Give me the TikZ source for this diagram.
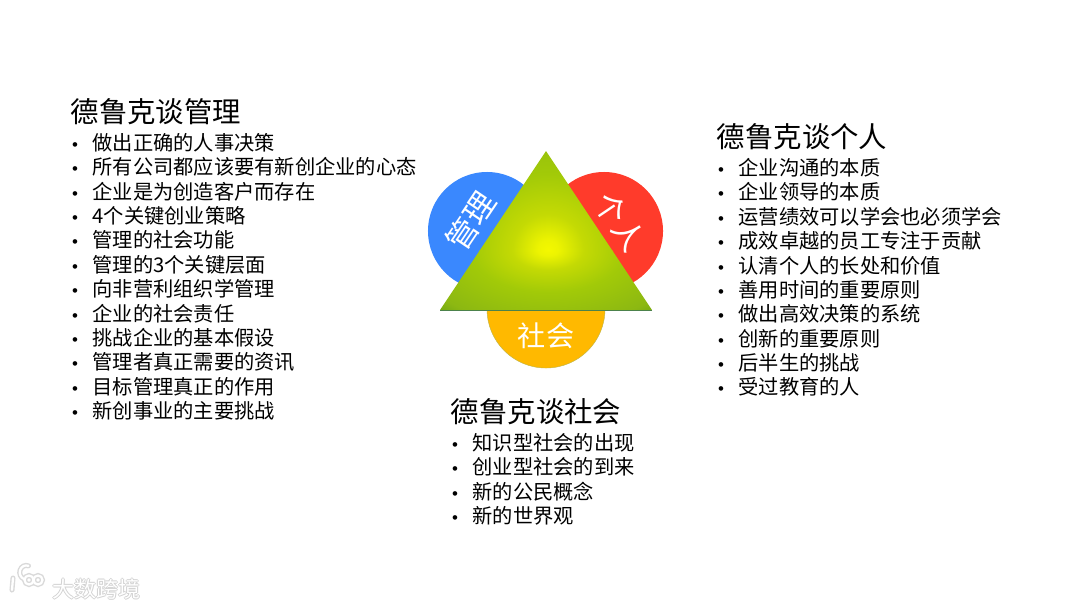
\documentclass[tikz,border=0pt]{standalone}
\usepackage{fontspec}
\setmainfont{Noto Sans CJK SC}
\newfontfamily\dotfont{Liberation Sans}
\usetikzlibrary{positioning}

\definecolor{mgmtblue}{HTML}{3A88FE}
\definecolor{selfred}{HTML}{FF3B2B}
\definecolor{socamber}{HTML}{FFB900}
\definecolor{glowcore}{HTML}{F4F800}
\definecolor{glowmid}{HTML}{C4DA04}
\definecolor{glowlime}{HTML}{A2CA08}
\definecolor{glowolive}{HTML}{8CB812}
\definecolor{glowedge}{HTML}{5D9A14}
\definecolor{glowdark}{HTML}{257A1A}
\pgfdeclareradialshading{triglow}{\pgfpointorigin}{
    color(0bp)=(glowcore);
    color(2bp)=(glowcore!85!glowmid);
    color(7bp)=(glowmid);
    color(15bp)=(glowlime);
    color(27bp)=(glowolive);
    color(34bp)=(glowedge);
    color(41bp)=(glowdark);
    color(50bp)=(glowdark)
}
\newcommand{\itm}[1]{\makebox[14.6pt][l]{\dotfont\fontsize{12}{12}\selectfont •}#1}

\begin{document}
\begin{tikzpicture}[
    x=0.025cm, y=-0.025cm,
    heading/.style={
        inner sep=0pt, anchor=west,
        font=\fontsize{20.2}{24}\selectfont
    },
    itemlist/.style={
        inner sep=0pt, align=left,
        font=\fontsize{14.4}{17.32}\selectfont
    },
    lobe/.style={circle, minimum size=2.95cm, inner sep=0pt},
    lobetext/.style={
        inner sep=0pt, text=white,
        font=\fontsize{20}{24}\selectfont
    },
    tilttext/.style={
        inner sep=0pt, text=white,
        font=\fontsize{22}{26}\selectfont
    },
    logotext/.style={
        inner sep=0pt, anchor=west,
        font=\fontsize{15.6}{18}\selectfont
    }
]
\useasboundingbox (0,0) rectangle (1080,608);

% three discs behind the triangle
\node (mgmtdisc) [lobe, fill=mgmtblue] at (487,231) {};
\node (selfdisc) [lobe, fill=selfred]  at (604,231) {};
\node (socdisc)  [lobe, fill=socamber, draw=olive!60, line width=0.3pt] at (546,309) {};

% triangle, glow squashed below its centre
\begin{scope}
    \clip (546,151) -- (652,310) -- (440,310) -- cycle;
    \begin{scope}
        \clip (430,140) rectangle (660,251);
        \shade[shading=triglow] (421,123) rectangle (675,377);
    \end{scope}
    \begin{scope}
        \clip (430,250) rectangle (660,320);
        \shade[shading=triglow] (421,180) rectangle (675,320);
    \end{scope}
\end{scope}
\draw[green!30!black!70, line width=0.4pt] (440,310) -- (652,310);

\node (mgmtlabel) [tilttext, rotate=56]  at (471,221) {管理};
\node (selflabel) [tilttext, rotate=-56] at (620,222) {个人};
\node (soclabel)  [lobetext] at (546,336) {社会};

% management
\node (mgmthead) [heading] at (70.5,112) {德鲁克谈管理};
\node (mgmtlist) [itemlist, below=5.5pt of mgmthead.south west, anchor=north west, xshift=1pt]
    {\itm{做出正确的人事决策}\\
     \itm{所有公司都应该要有新创企业的心态}\\
     \itm{企业是为创造客户而存在}\\
     \itm{4个关键创业策略}\\
     \itm{管理的社会功能}\\
     \itm{管理的3个关键层面}\\
     \itm{向非营利组织学管理}\\
     \itm{企业的社会责任}\\
     \itm{挑战企业的基本假设}\\
     \itm{管理者真正需要的资讯}\\
     \itm{目标管理真正的作用}\\
     \itm{新创事业的主要挑战}};

% individual
\node (selfhead) [heading] at (716.5,137) {德鲁克谈个人};
\node (selflist) [itemlist, below=5.5pt of selfhead.south west, anchor=north west, xshift=1pt]
    {\itm{企业沟通的本质}\\
     \itm{企业领导的本质}\\
     \itm{运营绩效可以学会也必须学会}\\
     \itm{成效卓越的员工专注于贡献}\\
     \itm{认清个人的长处和价值}\\
     \itm{善用时间的重要原则}\\
     \itm{做出高效决策的系统}\\
     \itm{创新的重要原则}\\
     \itm{后半生的挑战}\\
     \itm{受过教育的人}};

% society
\node (sochead) [heading] at (450.5,412) {德鲁克谈社会};
\node (soclist) [itemlist, below=5.5pt of sochead.south west, anchor=north west, xshift=1pt]
    {\itm{知识型社会的出现}\\
     \itm{创业型社会的到来}\\
     \itm{新的公民概念}\\
     \itm{新的世界观}};

% watermark
\foreach \w/\c in {3.6pt/gray!30, 1.6pt/white}{
    \draw[line width=\w, \c, line cap=round] (13,578) -- (12,590);
    \draw[line width=\w, \c, line cap=round] (24,579) arc (110:290:6.5 and 7);
    \draw[line width=\w, \c] (29,580) circle (4.5);
    \draw[line width=\w, \c] (38,580) circle (4.5);
}
\foreach \dx/\dy in {-1/0, 1/0, 0/-1, 0/1}{
    \node [logotext, text=gray!35] at (52+\dx,589+\dy) {大数跨境};
}
\node (logoname) [logotext, text=white] at (52,589) {大数跨境};
\end{tikzpicture}
\end{document}
